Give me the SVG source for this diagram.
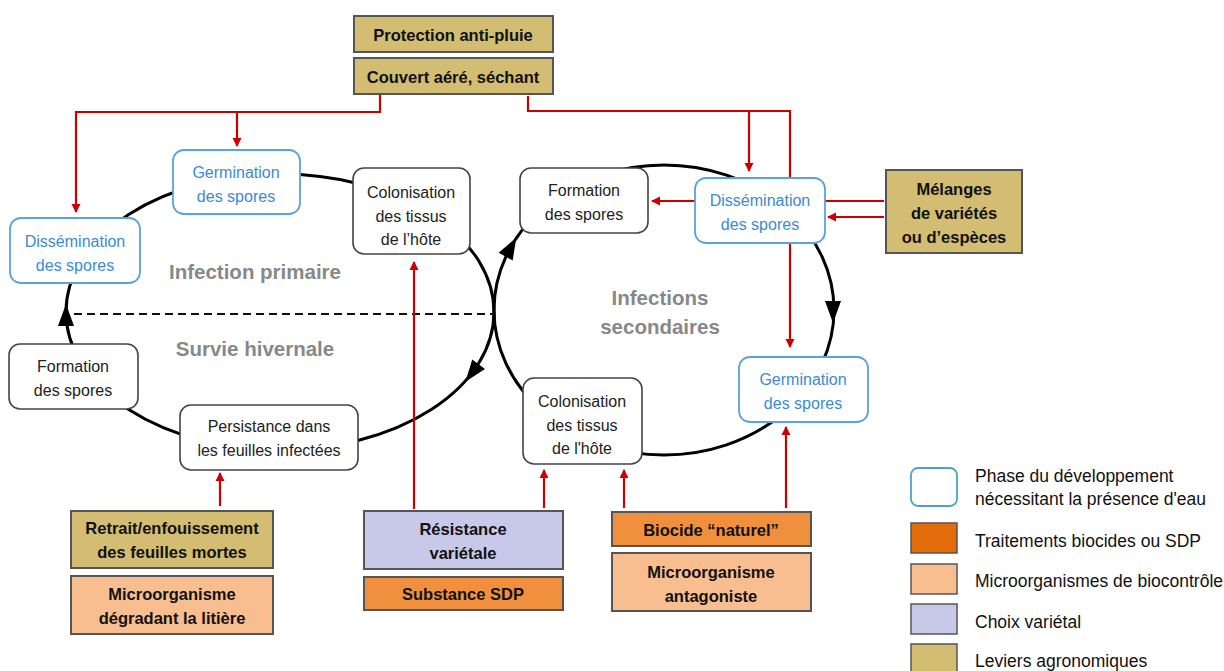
<svg xmlns="http://www.w3.org/2000/svg" width="1224" height="671" viewBox="0 0 1224 671">
<style>
text{font-family:"Liberation Sans",Arial,sans-serif;text-anchor:middle}
.n{fill:#fff;stroke:#444;stroke-width:1.6}
.w{fill:#fff;stroke:#5ba3dd;stroke-width:1.8}
.nt{font-size:16px;fill:#222}
.wt{font-size:16px;fill:#3a8bd0}
.b{stroke:#555;stroke-width:2}
.bt{font-size:16.5px;font-weight:bold;fill:#111}
.kh{fill:#d2bd73}
.do{fill:#f0903f}
.lo{fill:#f9be8f}
.pu{fill:#c8c8e8}
.lbl{font-size:20.5px;font-weight:bold;fill:#888}
.cyc{fill:none;stroke:#000;stroke-width:3}
.red{fill:none;stroke:#cc0000;stroke-width:2.2}
.lg{font-size:17.5px;fill:#111;text-anchor:start}
</style>
<defs>
<marker id="ra" markerWidth="10" markerHeight="10" refX="8" refY="5" orient="auto" markerUnits="userSpaceOnUse">
<path d="M0,0.5 L9,5 L0,9.5 Z" fill="#cc0000"/>
</marker>
<polygon id="ah" points="11,0 -11,-8 -11,8" fill="#000"/>
</defs>

<g id="cycles">
<ellipse class="cyc" cx="280" cy="312" rx="214" ry="138"/>
<ellipse class="cyc" cx="664" cy="310" rx="170" ry="145"/>
<line x1="74" y1="314" x2="494" y2="314" stroke="#111" stroke-width="2" stroke-dasharray="8,5"/>
</g>

<g id="connectors">
<path class="red" d="M380,95 V112 H76 V212" marker-end="url(#ra)"/>
<path class="red" d="M237,112 V146" marker-end="url(#ra)"/>
<path class="red" d="M528,96 V111 H790 V347" marker-end="url(#ra)"/>
<path class="red" d="M749,111 V171" marker-end="url(#ra)"/>
<path class="red" d="M884,201 H652" marker-end="url(#ra)"/>
<path class="red" d="M884,217 H828" marker-end="url(#ra)"/>
<path class="red" d="M220,506 V473" marker-end="url(#ra)"/>
<path class="red" d="M414,509 V262" marker-end="url(#ra)"/>
<path class="red" d="M544,508 V470" marker-end="url(#ra)"/>
<path class="red" d="M624,508 V470" marker-end="url(#ra)"/>
<path class="red" d="M786,508 V427" marker-end="url(#ra)"/>
</g>

<g id="arrowheads">
<use href="#ah" transform="translate(66,315) rotate(-90)"/>
<use href="#ah" transform="translate(472,373) rotate(127)"/>
<use href="#ah" transform="translate(511,247) rotate(-61)"/>
<use href="#ah" transform="translate(833,312) rotate(90)"/>
</g>

<g id="labels">
<text class="lbl" x="255" y="279">Infection primaire</text>
<text class="lbl" x="255" y="356">Survie hivernale</text>
<text class="lbl" x="660" y="305">Infections</text>
<text class="lbl" x="660" y="334">secondaires</text>
</g>

<g id="diss1"><rect class="w" x="10" y="218" width="130" height="65" rx="11"/>
<text class="wt" x="75" y="247">Dissémination</text><text class="wt" x="75" y="271">des spores</text></g>
<g id="germ1"><rect class="w" x="173" y="150" width="127" height="64" rx="11"/>
<text class="wt" x="236" y="178">Germination</text><text class="wt" x="236" y="202">des spores</text></g>
<g id="colo1"><rect class="n" x="353" y="168" width="117" height="86" rx="11"/>
<text class="nt" x="411" y="198">Colonisation</text><text class="nt" x="411" y="222">des tissus</text><text class="nt" x="411" y="245">de l’hôte</text></g>
<g id="form2"><rect class="n" x="520" y="168" width="128" height="65" rx="11"/>
<text class="nt" x="584" y="196">Formation</text><text class="nt" x="584" y="220">des spores</text></g>
<g id="diss2"><rect class="w" x="695" y="178" width="130" height="65" rx="11"/>
<text class="wt" x="760" y="206">Dissémination</text><text class="wt" x="760" y="230">des spores</text></g>
<g id="germ2"><rect class="w" x="739" y="357" width="129" height="65" rx="11"/>
<text class="wt" x="803" y="385">Germination</text><text class="wt" x="803" y="409">des spores</text></g>
<g id="colo2"><rect class="n" x="523" y="378" width="119" height="86" rx="11"/>
<text class="nt" x="582" y="407">Colonisation</text><text class="nt" x="582" y="431">des tissus</text><text class="nt" x="582" y="454">de l'hôte</text></g>
<g id="pers"><rect class="n" x="180" y="405" width="178" height="65" rx="11"/>
<text class="nt" x="269" y="432">Persistance dans</text><text class="nt" x="269" y="456">les feuilles infectées</text></g>
<g id="form1"><rect class="n" x="9" y="344" width="129" height="65" rx="11"/>
<text class="nt" x="73" y="372">Formation</text><text class="nt" x="73" y="396">des spores</text></g>

<g id="protection"><rect class="b kh" x="354" y="16" width="199" height="36"/>
<text class="bt" x="453" y="41">Protection anti-pluie</text></g>
<g id="couvert"><rect class="b kh" x="354" y="58" width="199" height="36"/>
<text class="bt" x="453" y="83">Couvert aéré, séchant</text></g>
<g id="melanges"><rect class="b kh" x="886" y="170" width="136" height="83"/>
<text class="bt" x="954" y="195">Mélanges</text><text class="bt" x="954" y="219">de variétés</text><text class="bt" x="954" y="243">ou d’espèces</text></g>
<g id="retrait"><rect class="b kh" x="71" y="511" width="202" height="57"/>
<text class="bt" x="172" y="534">Retrait/enfouissement</text><text class="bt" x="172" y="558">des feuilles mortes</text></g>
<g id="micro1"><rect class="b lo" x="71" y="576" width="202" height="58"/>
<text class="bt" x="172" y="600">Microorganisme</text><text class="bt" x="172" y="624">dégradant la litière</text></g>
<g id="resistance"><rect class="b pu" x="364" y="511" width="199" height="58"/>
<text class="bt" x="463" y="535">Résistance</text><text class="bt" x="463" y="559">variétale</text></g>
<g id="sdp"><rect class="b do" x="364" y="577" width="199" height="33"/>
<text class="bt" x="463" y="600">Substance SDP</text></g>
<g id="biocide"><rect class="b do" x="612" y="512" width="199" height="34"/>
<text class="bt" x="711" y="536">Biocide “naturel”</text></g>
<g id="micro2"><rect class="b lo" x="612" y="553" width="199" height="58"/>
<text class="bt" x="711" y="578">Microorganisme</text><text class="bt" x="711" y="602">antagoniste</text></g>

<g id="legend">
<rect x="911" y="468" width="46" height="38" rx="7" fill="#fff" stroke="#4aa3c8" stroke-width="1.8"/>
<text class="lg" x="975" y="482">Phase du développement</text>
<text class="lg" x="975" y="505">nécessitant la présence d'eau</text>
<rect x="911" y="523" width="46" height="30" fill="#e46c0a" stroke="#555" stroke-width="1.5"/>
<text class="lg" x="975" y="547">Traitements biocides ou SDP</text>
<rect x="911" y="564" width="46" height="30" fill="#f9be8f" stroke="#555" stroke-width="1.5"/>
<text class="lg" x="975" y="587">Microorganismes de biocontrôle</text>
<rect x="911" y="604" width="46" height="30" fill="#c8c8e8" stroke="#555" stroke-width="1.5"/>
<text class="lg" x="975" y="628">Choix variétal</text>
<rect x="911" y="644" width="46" height="30" fill="#d2bd73" stroke="#555" stroke-width="1.5"/>
<text class="lg" x="975" y="667">Leviers agronomiques</text>
</g>
</svg>
